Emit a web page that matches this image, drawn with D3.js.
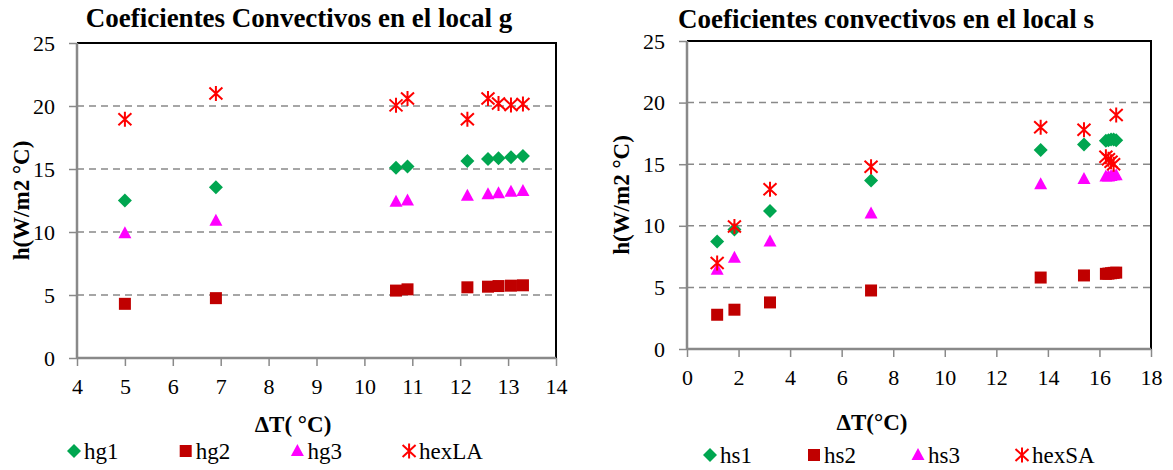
<!DOCTYPE html>
<html>
<head>
<meta charset="utf-8">
<script src="https://cdn.jsdelivr.net/npm/d3@7"></script>
<style>
  body { margin: 0; background: #fff; }
  svg text { font-family: "Liberation Serif", "Times New Roman", serif; fill: #000; }
</style>
</head>
<body>
<svg id="chart" width="1173" height="470"></svg>
<script>
// local g
const xG = [5.0, 6.9, 10.66, 10.9, 12.15, 12.58, 12.8, 13.06, 13.31];
const hg1 = [12.5, 13.55, 15.1, 15.2, 15.63, 15.79, 15.85, 15.93, 16.03];
const hg2 = [4.3, 4.75, 5.35, 5.45, 5.61, 5.66, 5.71, 5.74, 5.77];
const hg3 = [9.9, 10.9, 12.4, 12.5, 12.88, 13.0, 13.07, 13.2, 13.25];
const hexLA = [18.95, 21.0, 20.05, 20.6, 18.95, 20.6, 20.2, 20.08, 20.16];
const xTicksG = [4, 5, 6, 7, 8, 9, 10, 11, 12, 13, 14];

// local s
const xS = [1.17, 1.84, 3.22, 7.14, 13.72, 15.4, 16.25, 16.35, 16.45, 16.55, 16.65];
const hs1 = [8.73, 9.7, 11.2, 13.68, 16.15, 16.6, 16.9, 16.95, 17.0, 17.0, 16.95];
const hs2 = [2.78, 3.19, 3.78, 4.75, 5.8, 5.97, 6.1, 6.12, 6.15, 6.18, 6.2];
const hs3 = [6.44, 7.4, 8.73, 11.0, 13.38, 13.8, 14.0, 14.0, 14.05, 14.1, 14.1];
const hexSA = [6.98, 9.95, 12.97, 14.8, 18.0, 17.8, 15.6, 15.4, 15.2, 15.0, 19.0];
const xTicksS = [0, 2, 4, 6, 8, 10, 12, 14, 16, 18];

const yTicks = [0, 5, 10, 15, 20, 25];

const GREEN = "#00a650", DARKRED = "#c00000", MAGENTA = "#ff00ff", RED = "#ff0000";
const AXIS = "#898989";
const FONT = "Liberation Serif, Times New Roman, serif";

const svg = d3.select("#chart");

// marker shapes
function marker(g, type, x, y) {
  if (type == "diamond") {
    g.append("path").attr("d", `M${x},${y-7}L${x+7},${y}L${x},${y+7}L${x-7},${y}Z`).attr("fill", GREEN);
  } else if (type == "square") {
    g.append("rect").attr("x", x-6).attr("y", y-6).attr("width", 12).attr("height", 12).attr("fill", DARKRED);
  } else if (type == "triangle") {
    g.append("path").attr("d", `M${x},${y-7}L${x+6.5},${y+5}L${x-6.5},${y+5}Z`).attr("fill", MAGENTA);
  } else {
    g.append("path")
      .attr("d", `M${x-6.5},${y-6}L${x+6.5},${y+6}M${x+6.5},${y-6}L${x-6.5},${y+6}M${x},${y-7.5}L${x},${y+7.5}`)
      .attr("stroke", RED).attr("stroke-width", 2).attr("fill", "none");
  }
}

function drawChart(cfg) {
  const g = svg.append("g").attr("font-family", FONT);
  const x = d3.scaleLinear().domain(cfg.xDomain).range([cfg.left, cfg.right]);
  const y = d3.scaleLinear().domain([0, 25]).range([cfg.bottom, cfg.top]);

  // grid lines
  g.selectAll(".grid").data(yTicks.filter(d => d > 0 && d < 25)).enter().append("line")
    .attr("x1", cfg.left).attr("x2", cfg.right)
    .attr("y1", d => y(d)).attr("y2", d => y(d))
    .attr("stroke", AXIS).attr("stroke-width", 1.5).attr("stroke-dasharray", "7,5");

  // plot border (top + right)
  g.append("path")
    .attr("d", `M${cfg.left},${cfg.top}H${cfg.right}V${cfg.bottom}`)
    .attr("stroke", "#000").attr("stroke-width", 2).attr("fill", "none");

  // axes
  const yAxis = g.append("g").attr("transform", `translate(${cfg.left},0)`)
    .call(d3.axisLeft(y).tickValues(yTicks).tickSize(8).tickPadding(14));
  const xAxis = g.append("g").attr("transform", `translate(0,${cfg.bottom})`)
    .call(d3.axisBottom(x).tickValues(cfg.xTicks).tickSize(8).tickPadding(12));
  [yAxis, xAxis].forEach(a => {
    a.attr("font-family", FONT);
    a.select(".domain").attr("stroke", AXIS).attr("stroke-width", 2.5);
    a.selectAll(".tick line").attr("stroke", AXIS).attr("stroke-width", 1.5);
    a.selectAll("text").attr("font-size", 22).attr("fill", "#000");
  });
  yAxis.select(".domain").attr("d", `M0,${cfg.top}V${cfg.bottom}`);
  xAxis.select(".domain").attr("d", `M${cfg.left},0H${cfg.right}`);

  // points
  const pts = g.append("g");
  cfg.series.forEach(s => {
    cfg.xs.forEach((xv, i) => marker(pts, s.type, x(xv), y(s.values[i])));
  });

  // titles
  g.append("text").attr("x", cfg.titleX).attr("y", cfg.titleY).attr("text-anchor", "middle")
    .attr("font-size", 27).attr("font-weight", "bold").text(cfg.title);
  g.append("text").attr("x", cfg.xTitleX).attr("y", cfg.xTitleY).attr("text-anchor", "middle")
    .attr("font-size", 23).attr("font-weight", "bold").text(cfg.xTitle);
  g.append("text")
    .attr("transform", `translate(${cfg.yTitleX},${(cfg.top + cfg.bottom) / 2}) rotate(-90)`)
    .attr("text-anchor", "middle").attr("font-size", 23).attr("font-weight", "bold")
    .text("h(W/m2 °C)");

  // legend
  cfg.series.forEach((s, i) => {
    const lx = cfg.legendX + i * cfg.legendStep;
    marker(g, s.type, lx, cfg.legendY);
    g.append("text").attr("x", lx + 10).attr("y", cfg.legendY + 7.5)
      .attr("font-size", 23).text(s.name);
  });
}

drawChart({
  xs: xG, xDomain: [4, 14], xTicks: xTicksG,
  left: 77, right: 556, top: 43, bottom: 358,
  title: "Coeficientes Convectivos en el local g", titleX: 299, titleY: 27,
  xTitle: "ΔT( °C)", xTitleX: 293, xTitleY: 432, yTitleX: 29,
  legendX: 74, legendY: 451, legendStep: 111.7,
  series: [
    { name: "hg1", type: "diamond", values: hg1 },
    { name: "hg2", type: "square", values: hg2 },
    { name: "hg3", type: "triangle", values: hg3 },
    { name: "hexLA", type: "star", values: hexLA }
  ]
});

drawChart({
  xs: xS, xDomain: [0, 18], xTicks: xTicksS,
  left: 687, right: 1151, top: 41, bottom: 349,
  title: "Coeficientes convectivos en el local s", titleX: 886, titleY: 28,
  xTitle: "ΔT(°C)", xTitleX: 872, xTitleY: 430, yTitleX: 629,
  legendX: 710, legendY: 455, legendStep: 104,
  series: [
    { name: "hs1", type: "diamond", values: hs1 },
    { name: "hs2", type: "square", values: hs2 },
    { name: "hs3", type: "triangle", values: hs3 },
    { name: "hexSA", type: "star", values: hexSA }
  ]
});
</script>
</body>
</html>
